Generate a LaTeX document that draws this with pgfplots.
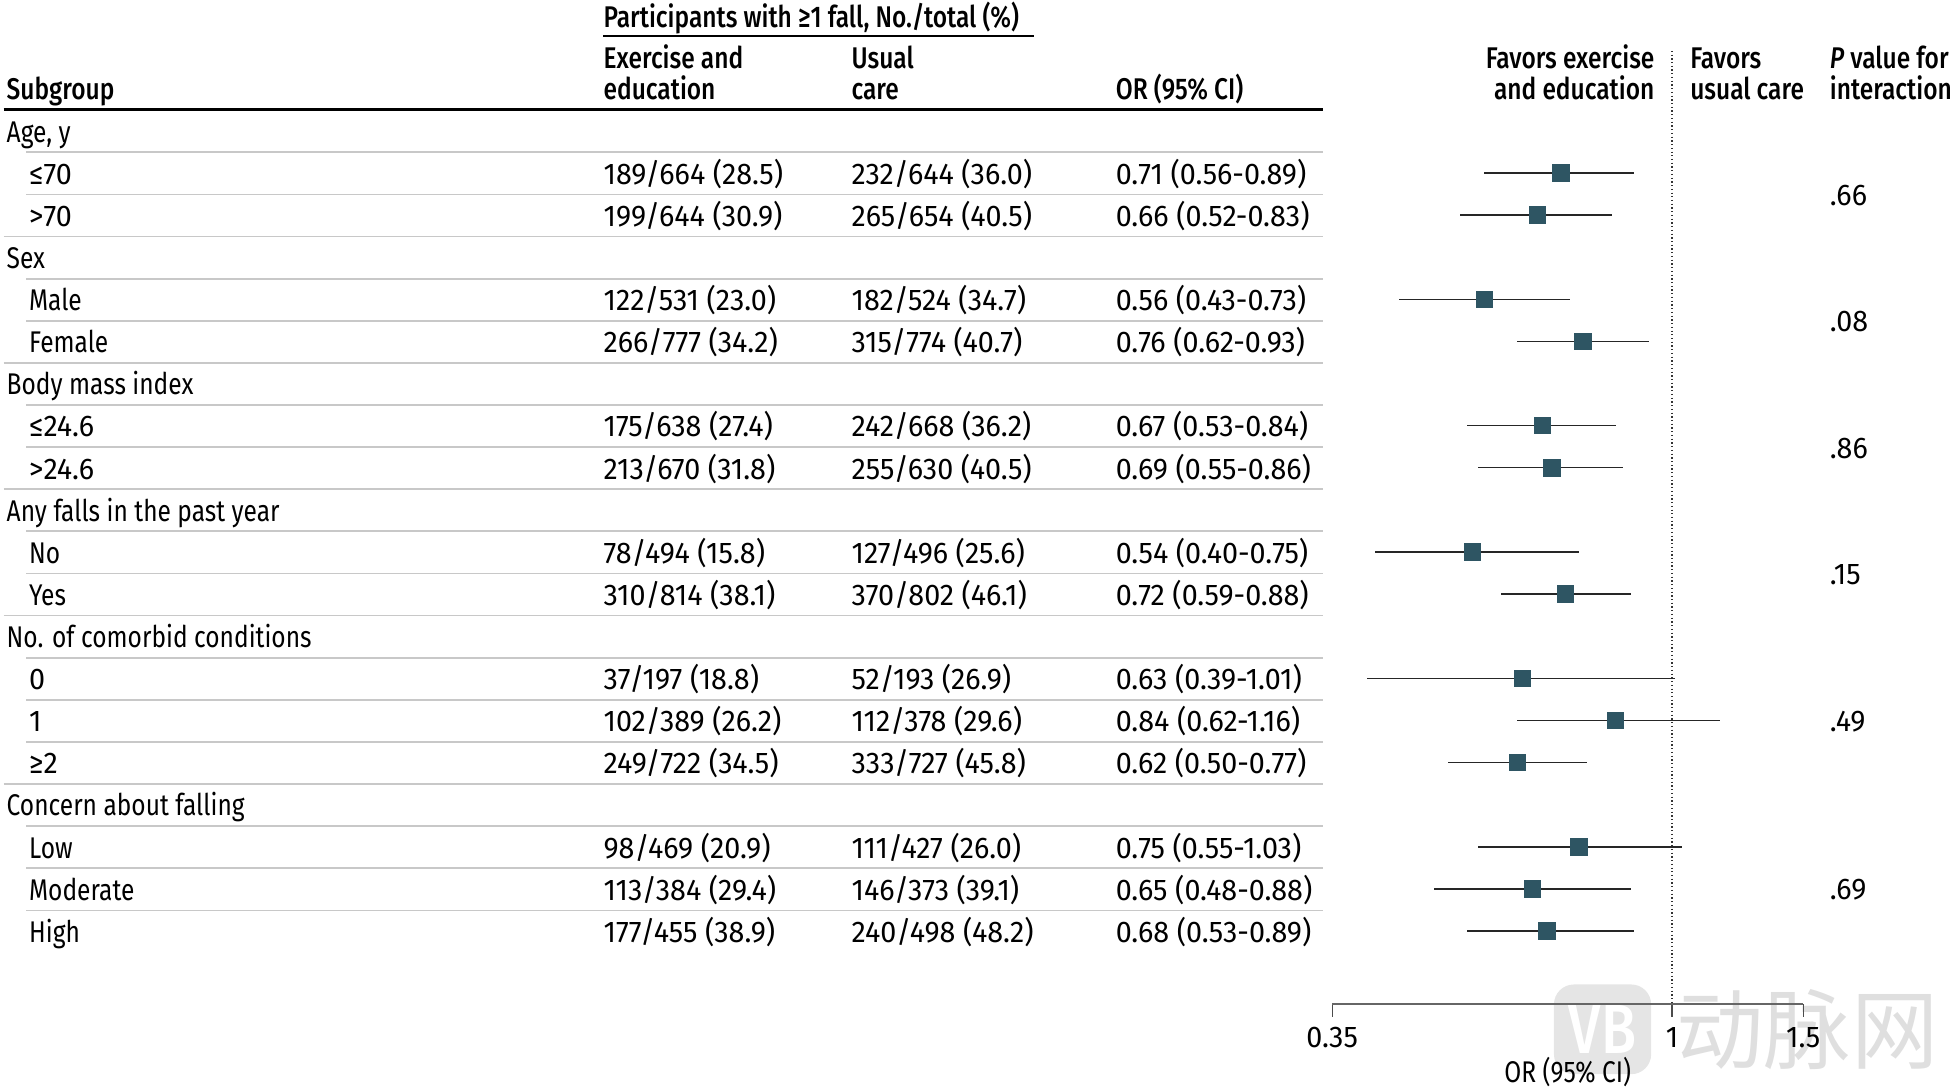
\documentclass[border=0pt]{standalone}
\usepackage{fontspec}
\setmainfont[FakeStretch=0.82, BoldFont={Fira Sans Medium}]{Fira Sans}
\newfontfamily\numfont[FakeStretch=0.96]{Fira Sans}
\newfontfamily\cjk{Noto Sans CJK SC}
\usepackage{pgfplots}
\pgfplotsset{compat=1.18}
\usepackage{pgfplotstable}

\definecolor{sq}{RGB}{46,85,99}
\definecolor{rulegray}{RGB}{200,200,200}
\newcommand\tf{\fontsize{12bp}{14bp}\selectfont}

% row index, OR, lower, upper
\pgfplotstableread{
y  or   lo   hi
1  0.71 0.56 0.89
2  0.66 0.52 0.83
4  0.56 0.43 0.73
5  0.76 0.62 0.93
7  0.67 0.53 0.84
8  0.69 0.55 0.86
10 0.54 0.40 0.75
11 0.72 0.59 0.88
13 0.63 0.39 1.01
14 0.84 0.62 1.16
15 0.62 0.50 0.77
17 0.75 0.55 1.03
18 0.65 0.48 0.88
19 0.68 0.53 0.89
}\ortable

% group header row
\newcommand\G[2]{\pgfmathsetmacro\yy{114+33.8*#1}%
  \node[anchor=base west] at (5,\yy) {#2};}
% subgroup row
\newcommand\R[5]{\pgfmathsetmacro\yy{114+33.8*#1}%
  \node[anchor=base west] at (23,\yy) {#2};
  \node[anchor=base west] at (484,\yy) {\numfont #3};
  \node[anchor=base west] at (683,\yy) {\numfont #4};
  \node[anchor=base west] at (895,\yy) {\numfont #5};}

\begin{document}
\tf
\begin{tikzpicture}
\useasboundingbox (0,0) rectangle (784bp,-437.5bp);
\begin{scope}[x=0.5bp,y=-0.5bp]
  % watermark
  \fill[gray!20, rounded corners=8bp] (1247,790) rectangle (1325,862);
  \node[white, font=\bfseries\fontsize{28bp}{28bp}\selectfont] at (1286,826) {VB};
  \node[text=gray!25, font=\cjk\fontsize{35bp}{35bp}\selectfont, anchor=west, inner sep=0pt] at (1345,826) {动脉网};
\end{scope}

\begin{axis}[
  at={(534.5bp,-403bp)}, anchor=south west,
  scale only axis, width=189bp, height=380.5bp,
  xmode=log, xmin=0.35, xmax=1.5,
  ymin=-20.74, ymax=1.775,
  axis x line*=bottom, axis y line=none,
  axis line style={black!60, line width=0.8bp},
  xtick={0.35,1,1.5}, xticklabels={0.35,1,1.5},
  minor x tick style={draw=none},
  tick align=outside, major tick length=5bp,
  tick style={black!70, line width=0.5bp},
  ticklabel style={font=\tf\numfont},
  label style={font=\tf},
  xlabel={OR (95\% CI)},
  xlabel style={yshift=4.5bp},
  clip=false,
]
  \draw[black!80, densely dotted, line width=0.5bp] (axis cs:1,1.9) -- (axis cs:1,-20.74);
  \addplot[only marks, mark=square*, mark size=3.3bp,
    mark options={fill=sq, draw=sq},
    error bars/.cd, x dir=both, x explicit, error mark=none,
    error bar style={black!85, line width=0.55bp}]
    table[x=or, y expr=-\thisrow{y},
      x error plus expr=\thisrow{hi}-\thisrow{or},
      x error minus expr=\thisrow{or}-\thisrow{lo}] {\ortable};
\end{axis}

\begin{scope}[x=0.5bp,y=-0.5bp, every node/.style={inner sep=0pt}]
  % headers
  \node[anchor=base west, font=\bfseries] at (484,22) {Participants with ≥1 fall, No./total (\%)};
  \draw[line width=0.6bp] (484,29) -- (830,29);
  \node[anchor=base west, font=\bfseries] at (5,80) {Subgroup};
  \node[anchor=base west, font=\bfseries] at (484,55) {Exercise and};
  \node[anchor=base west, font=\bfseries] at (484,80) {education};
  \node[anchor=base west, font=\bfseries] at (683,55) {Usual};
  \node[anchor=base west, font=\bfseries] at (683,80) {care};
  \node[anchor=base west, font=\bfseries] at (895,80) {OR (95\% CI)};
  \node[anchor=base east, font=\bfseries] at (1328,55) {Favors exercise};
  \node[anchor=base east, font=\bfseries] at (1328,80) {and education};
  \node[anchor=base west, font=\bfseries] at (1356,55) {Favors};
  \node[anchor=base west, font=\bfseries] at (1356,80) {usual care};
  \node[anchor=base west, font=\bfseries] at (1468,55) {\textit{P} value for};
  \node[anchor=base west, font=\bfseries] at (1468,80) {interaction};
  \draw[line width=1.1bp] (3,88) -- (1062,88);
  % row rules
  \foreach \i in {0,1,3,4,6,7,9,10,12,13,14,16,17,18}
    \draw[rulegray, line width=0.7bp] (21,122.2+33.8*\i) -- (1062,122.2+33.8*\i);
  \foreach \i in {2,5,8,11,15}
    \draw[rulegray, line width=0.7bp] (3,122.2+33.8*\i) -- (1062,122.2+33.8*\i);
  % table body
  \G{0}{Age, y}
  \R{1}{\numfont ≤70}{189/664 (28.5)}{232/644 (36.0)}{0.71 (0.56-0.89)}
  \R{2}{\numfont >70}{199/644 (30.9)}{265/654 (40.5)}{0.66 (0.52-0.83)}
  \G{3}{Sex}
  \R{4}{Male}{122/531 (23.0)}{182/524 (34.7)}{0.56 (0.43-0.73)}
  \R{5}{Female}{266/777 (34.2)}{315/774 (40.7)}{0.76 (0.62-0.93)}
  \G{6}{Body mass index}
  \R{7}{\numfont ≤24.6}{175/638 (27.4)}{242/668 (36.2)}{0.67 (0.53-0.84)}
  \R{8}{\numfont >24.6}{213/670 (31.8)}{255/630 (40.5)}{0.69 (0.55-0.86)}
  \G{9}{Any falls in the past year}
  \R{10}{No}{78/494 (15.8)}{127/496 (25.6)}{0.54 (0.40-0.75)}
  \R{11}{Yes}{310/814 (38.1)}{370/802 (46.1)}{0.72 (0.59-0.88)}
  \G{12}{No. of comorbid conditions}
  \R{13}{\numfont 0}{37/197 (18.8)}{52/193 (26.9)}{0.63 (0.39-1.01)}
  \R{14}{\numfont 1}{102/389 (26.2)}{112/378 (29.6)}{0.84 (0.62-1.16)}
  \R{15}{\numfont ≥2}{249/722 (34.5)}{333/727 (45.8)}{0.62 (0.50-0.77)}
  \G{16}{Concern about falling}
  \R{17}{Low}{98/469 (20.9)}{111/427 (26.0)}{0.75 (0.55-1.03)}
  \R{18}{Moderate}{113/384 (29.4)}{146/373 (39.1)}{0.65 (0.48-0.88)}
  \R{19}{High}{177/455 (38.9)}{240/498 (48.2)}{0.68 (0.53-0.89)}
  % P values for interaction
  \begin{scope}[font=\numfont]
  \node[anchor=base west] at (1468,165) {.66};
  \node[anchor=base west] at (1468,266) {.08};
  \node[anchor=base west] at (1468,368) {.86};
  \node[anchor=base west] at (1468,469) {.15};
  \node[anchor=base west] at (1468,587) {.49};
  \node[anchor=base west] at (1468,722) {.69};
  \end{scope}
\end{scope}
\end{tikzpicture}
\end{document}
